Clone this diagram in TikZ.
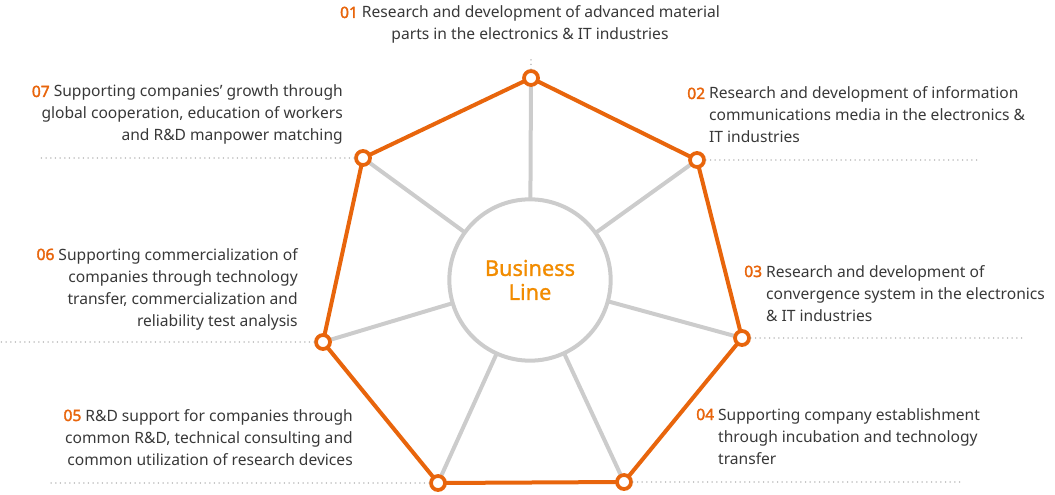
\documentclass[tikz,border=0pt]{standalone}
\usepackage{fontspec}
\setmainfont{Noto Sans}
\newfontfamily\numfont[FakeBold=2.2]{Noto Sans}
\newfontfamily\corefont[FakeBold=1.2]{Noto Sans}
\usetikzlibrary{positioning,backgrounds}
\definecolor{rimorange}{HTML}{E8650C}
\definecolor{coreorange}{HTML}{F28C00}
\definecolor{spokegray}{HTML}{CCCCCC}
\definecolor{dotgray}{HTML}{9E9E9E}
\definecolor{textgray}{HTML}{383838}
\newcommand{\itemno}[1]{\textcolor{rimorange}{\numfont #1}}
\tikzset{
  spoke/.style={line width=3pt,spokegray},
  rim/.style={line width=3pt,rimorange,line join=round},
  vertex/.style={circle,draw=rimorange,fill=white,line width=2.8pt,minimum size=10.5pt,inner sep=0pt},
  core/.style={circle,draw=spokegray,fill=white,line width=3pt,minimum size=121pt,inner sep=0pt,
    align=center,text=coreorange,font=\corefont\fontsize{16.3}{18}\selectfont},
  guide/.style={dotgray,line width=1.1pt,dash pattern=on 0pt off 3.5pt,line cap=round},
  item/.style={text=textgray,inner sep=0pt,font=\fontsize{11.7}{16.5}\selectfont}
}

\begin{document}
\begin{tikzpicture}[x=0.75pt,y=-0.75pt]
  \useasboundingbox (0,0) rectangle (1055,495);
  % hub and the seven points
  \node[core] (core) at (530,280) {Business\\Line};
  \foreach \n/\px/\py in {1/531/78,2/697/160,3/742/338,4/624/482,5/438/483,6/323/342,7/363/158}{
    \node[vertex] (v\n) at (\px,\py) {};
  }
  \begin{scope}[on background layer]
    \foreach \n in {1,...,7}{\draw[spoke] (core.center) -- (v\n.center);}
    \draw[rim] (v1.center) -- (v2.center) -- (v3.center) -- (v4.center) -- (v5.center)
      -- (v6.center) -- (v7.center) -- cycle;
  \end{scope}
  % dotted leaders
  \foreach \n/\gx/\gy in {1/531/56,2/977/160,3/1022/338,4/960/482,5/48/483,6/0/342,7/38/158}{
    \coordinate (g\n) at (\gx,\gy);
  }
  \draw[guide] (v1.north) -- (g1);
  \foreach \n in {2,3,4}{\draw[guide] (v\n.east) -- (g\n);}
  \foreach \n in {5,6,7}{\draw[guide] (v\n.west) -- (g\n);}
  % labels
  \node[item,anchor=base] (t1) at (530,18) {\begin{tabular}[t]{@{}c@{}}
    \itemno{01} Research and development of advanced material\\
    parts in the electronics \& IT industries\end{tabular}};
  \node[item,anchor=base west] (t2) at (687,99) {\begin{tabular}[t]{@{}l@{\ }l@{}}
    \itemno{02} & Research and development of information\\
    & communications media in the electronics \&\\
    & IT industries\end{tabular}};
  \node[item,anchor=base west] (t3) at (744,277) {\begin{tabular}[t]{@{}l@{\ }l@{}}
    \itemno{03} & Research and development of\\
    & convergence system in the electronics\\
    & \& IT industries\end{tabular}};
  \node[item,anchor=base west] (t4) at (696,420) {\begin{tabular}[t]{@{}l@{\ }l@{}}
    \itemno{04} & Supporting company establishment\\
    & through incubation and technology\\
    & transfer\end{tabular}};
  \node[item,anchor=base east] (t5) at (353,421) {\begin{tabular}[t]{@{}r@{}}
    \itemno{05} R\&D support for companies through\\
    common R\&D, technical consulting and\\
    common utilization of research devices\end{tabular}};
  \node[item,anchor=base east] (t6) at (298,260) {\begin{tabular}[t]{@{}r@{}}
    \itemno{06} Supporting commercialization of\\
    companies through technology\\
    transfer, commercialization and\\
    reliability test analysis\end{tabular}};
  \node[item,anchor=base east] (t7) at (343,97) {\begin{tabular}[t]{@{}r@{}}
    \itemno{07} Supporting companies’ growth through\\
    global cooperation, education of workers\\
    and R\&D manpower matching\end{tabular}};
\end{tikzpicture}
\end{document}
